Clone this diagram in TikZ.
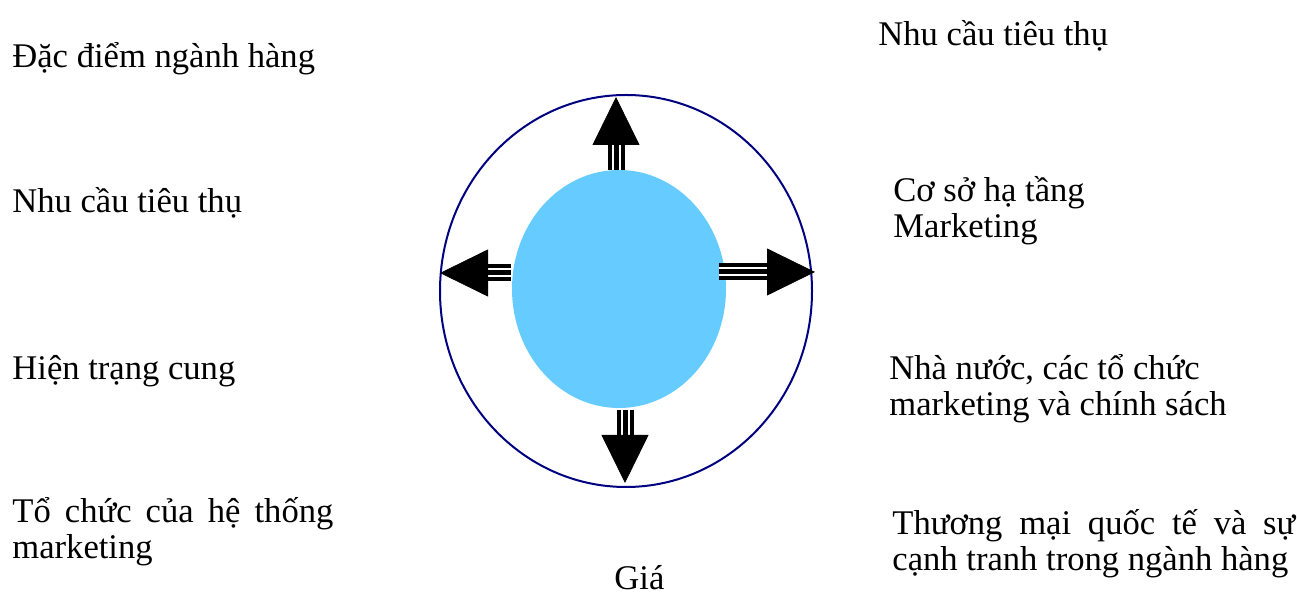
\documentclass[tikz,border=0pt]{standalone}
\usepackage{fontspec}
\setmainfont{Liberation Serif}
\usepackage{tikz}
\usetikzlibrary{shapes.geometric, arrows.meta}

\definecolor{ringblue}{RGB}{0,0,128}
\definecolor{coreblue}{HTML}{66CCFF}

\begin{document}
\begin{tikzpicture}[x=0.5pt, y=-0.5pt,
        factor/.style={anchor=base west, inner sep=0pt, align=left, font=\fontsize{17.3}{18}\selectfont},
        ring/.style={ellipse, draw=ringblue, line width=1pt, minimum width=186pt, minimum height=196pt, inner sep=0pt},
        core/.style={ellipse, fill=coreblue, minimum width=107pt, minimum height=119pt, inner sep=0pt},
        shaft/.style={line width=8.5pt, shorten >=23pt},
        gaps/.style={draw=white, line width=1pt, double=black, double distance=2.5pt, shorten >=23pt},
        head/.style={-{Triangle[width=23.5pt,length=24pt]}, line width=0.4pt}]
        \useasboundingbox (0,0) rectangle (1297,597);

        \node[ring] (ring) at (626,291) {};
        \node[core] (core) at (619,289) {};

        \coordinate (n1) at (616,170);
        \coordinate (n2) at (616,97);
        \coordinate (w1) at (511,273);
        \coordinate (w2) at (440,273);
        \coordinate (e1) at (719,272);
        \coordinate (e2) at (815,272);
        \coordinate (s1) at (625,410);
        \coordinate (s2) at (625,483);
        \foreach \a/\b in {n1/n2, w1/w2, e1/e2, s1/s2} {
            \draw[shaft] (\a) -- (\b);
            \draw[gaps] (\a) -- (\b);
            \draw[head] (\a) -- (\b);
        }

        % two-line labels sit on the baseline of their last line
        \node[factor] (left1) at (12,68) {Đặc điểm ngành hàng};
        \node[factor] (left2) at (12,213) {Nhu cầu tiêu thụ};
        \node[factor] (left3) at (12,380) {Hiện trạng cung};
        \node[factor] (left4) at (12,559) {\makebox[160.5pt][s]{Tổ chức của hệ thống}\\marketing};

        \node[factor] (right1) at (878,46) {Nhu cầu tiêu thụ};
        \node[factor] (right2) at (893,238) {Cơ sở hạ tầng\\Marketing};
        \node[factor] (right3) at (889,416) {Nhà nước, các tổ chức\\marketing và chính sách};
        \node[factor] (right4) at (892,571) {\makebox[201.5pt][s]{Thương mại quốc tế và sự}\\cạnh tranh trong ngành hàng};

        \node[factor] (price) at (614,590) {Giá};
    \end{tikzpicture}
\end{document}
